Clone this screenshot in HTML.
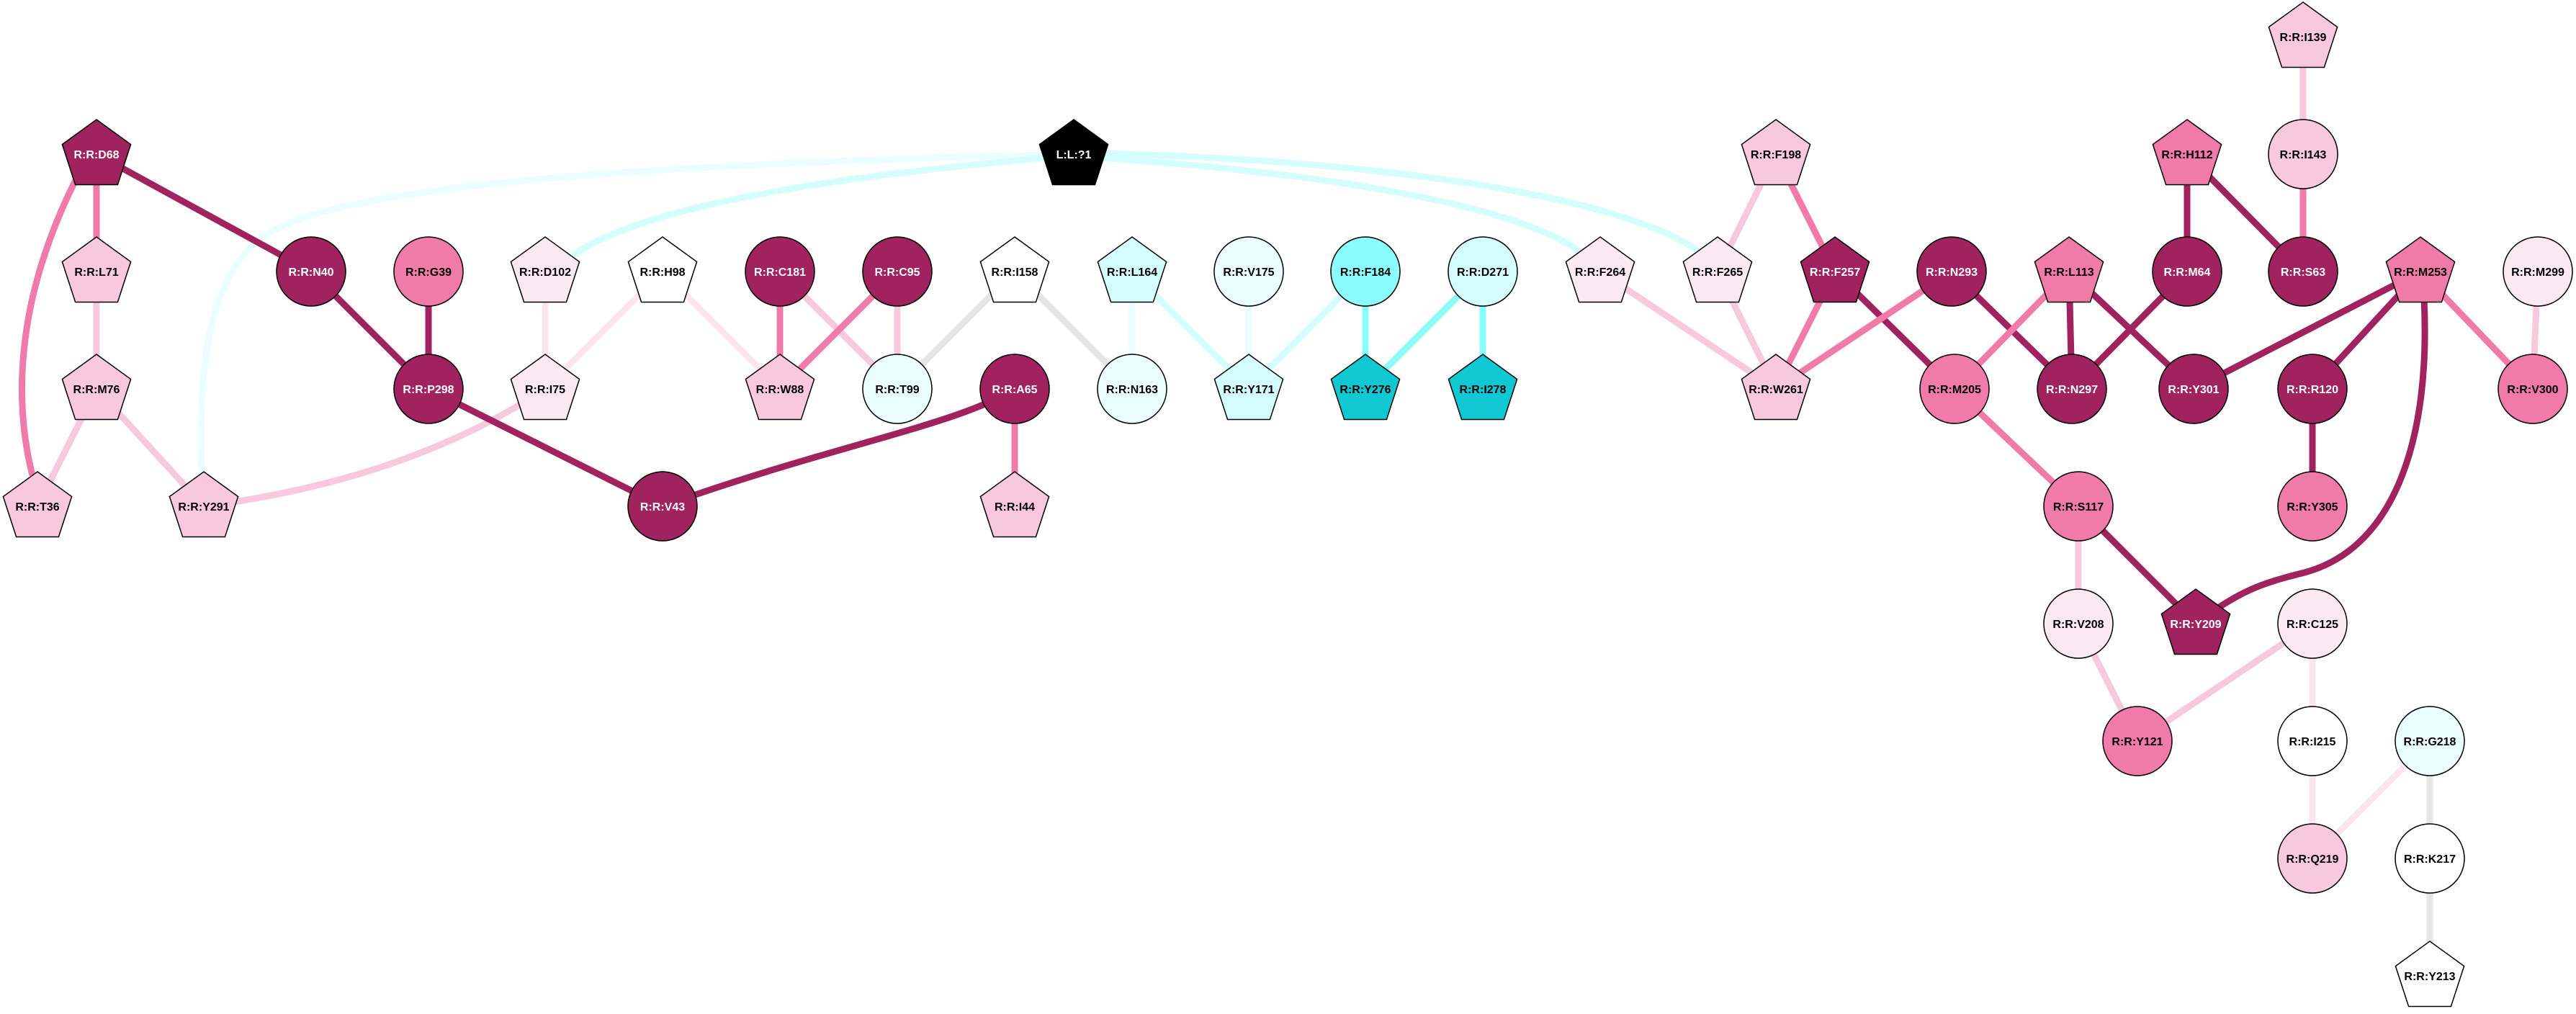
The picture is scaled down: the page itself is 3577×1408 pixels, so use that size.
<!DOCTYPE html>
<html><head><meta charset="utf-8"><style>
html,body{margin:0;padding:0;background:#fff;}
svg{display:block;}
text{font-family:"Liberation Sans",Arial,sans-serif;font-weight:bold;font-size:16px;text-anchor:middle;}
</style></head><body>
<svg width="3577" height="1408" viewBox="0 0 3577 1408" xmlns="http://www.w3.org/2000/svg">
<g fill="none" stroke-width="9" stroke-linecap="butt">
<path d="M1491 214 C1000 225 500 250 380 320 C290 370 275 500 280 660" stroke="#EAFEFE"/>
<path d="M1491 216 C1200 240 900 280 795 355" stroke="#D4FEFE"/>
<path d="M1491 217 C1800 235 2100 280 2195 350" stroke="#D4FEFE"/>
<path d="M1491 212 C1900 220 2250 270 2360 350" stroke="#D4FEFE"/>
<path d="M105 250 C20 420 20 560 45 660" stroke="#F07AA8"/>
<path d="M920 703 C1150 620 1330 590 1409 540" stroke="#A0225E"/>
<path d="M3366 415 C3375 600 3330 760 3200 795 C3140 810 3110 820 3049 866" stroke="#A0225E"/>
<path d="M757 540 C620 630 460 680 283 703" stroke="#F8C8DC"/>
<line x1="134" y1="214" x2="432" y2="377" stroke="#A0225E"/>
<line x1="134" y1="214" x2="134" y2="377" stroke="#F07AA8"/>
<line x1="134" y1="377" x2="134" y2="540" stroke="#F8C8DC"/>
<line x1="134" y1="540" x2="52" y2="703" stroke="#F8C8DC"/>
<line x1="134" y1="540" x2="283" y2="703" stroke="#F8C8DC"/>
<line x1="432" y1="377" x2="595" y2="540" stroke="#A0225E"/>
<line x1="595" y1="377" x2="595" y2="540" stroke="#A0225E"/>
<line x1="595" y1="540" x2="920" y2="703" stroke="#A0225E"/>
<line x1="1409" y1="540" x2="1409" y2="703" stroke="#F07AA8"/>
<line x1="757" y1="377" x2="757" y2="540" stroke="#FBE5EE"/>
<line x1="920" y1="377" x2="757" y2="540" stroke="#FBE5EE"/>
<line x1="920" y1="377" x2="1083" y2="540" stroke="#FBE5EE"/>
<line x1="1083" y1="377" x2="1083" y2="540" stroke="#F07AA8"/>
<line x1="1083" y1="377" x2="1246" y2="540" stroke="#F8C8DC"/>
<line x1="1246" y1="377" x2="1083" y2="540" stroke="#F07AA8"/>
<line x1="1246" y1="377" x2="1246" y2="540" stroke="#F8C8DC"/>
<line x1="1409" y1="377" x2="1246" y2="540" stroke="#E5E5E5"/>
<line x1="1409" y1="377" x2="1572" y2="540" stroke="#E5E5E5"/>
<line x1="1572" y1="377" x2="1572" y2="540" stroke="#EAFEFE"/>
<line x1="1572" y1="377" x2="1734" y2="540" stroke="#D4FEFE"/>
<line x1="1734" y1="377" x2="1734" y2="540" stroke="#EAFEFE"/>
<line x1="1896" y1="377" x2="1734" y2="540" stroke="#D4FEFE"/>
<line x1="1896" y1="377" x2="1896" y2="540" stroke="#8AFCFC"/>
<line x1="2059" y1="377" x2="1896" y2="540" stroke="#8AFCFC"/>
<line x1="2059" y1="377" x2="2059" y2="540" stroke="#8AFCFC"/>
<line x1="2222" y1="377" x2="2466" y2="540" stroke="#F8C8DC"/>
<line x1="2466" y1="214" x2="2385" y2="377" stroke="#F8C8DC"/>
<line x1="2385" y1="377" x2="2466" y2="540" stroke="#F8C8DC"/>
<line x1="2466" y1="214" x2="2548" y2="377" stroke="#F07AA8"/>
<line x1="2548" y1="377" x2="2466" y2="540" stroke="#F07AA8"/>
<line x1="2548" y1="377" x2="2714" y2="540" stroke="#A0225E"/>
<line x1="2710" y1="377" x2="2466" y2="540" stroke="#F07AA8"/>
<line x1="2710" y1="377" x2="2877" y2="540" stroke="#A0225E"/>
<line x1="2873" y1="377" x2="2714" y2="540" stroke="#F07AA8"/>
<line x1="2873" y1="377" x2="2877" y2="540" stroke="#A0225E"/>
<line x1="2873" y1="377" x2="3046" y2="540" stroke="#A0225E"/>
<line x1="3037" y1="377" x2="2877" y2="540" stroke="#A0225E"/>
<line x1="3037" y1="214" x2="3037" y2="377" stroke="#A0225E"/>
<line x1="3037" y1="214" x2="3198" y2="377" stroke="#A0225E"/>
<line x1="3198" y1="51" x2="3198" y2="214" stroke="#F8C8DC"/>
<line x1="3198" y1="214" x2="3198" y2="377" stroke="#F07AA8"/>
<line x1="3361" y1="377" x2="3046" y2="540" stroke="#A0225E"/>
<line x1="3361" y1="377" x2="3211" y2="540" stroke="#A0225E"/>
<line x1="3361" y1="377" x2="3517" y2="540" stroke="#F07AA8"/>
<line x1="3524" y1="377" x2="3517" y2="540" stroke="#F8C8DC"/>
<line x1="3211" y1="540" x2="3211" y2="703" stroke="#A0225E"/>
<line x1="2714" y1="540" x2="2886" y2="703" stroke="#F07AA8"/>
<line x1="2886" y1="703" x2="3049" y2="866" stroke="#A0225E"/>
<line x1="2886" y1="703" x2="2886" y2="866" stroke="#F8C8DC"/>
<line x1="2886" y1="866" x2="2968" y2="1029" stroke="#F8C8DC"/>
<line x1="3211" y1="866" x2="2968" y2="1029" stroke="#F8C8DC"/>
<line x1="3211" y1="866" x2="3211" y2="1029" stroke="#FBE5EE"/>
<line x1="3211" y1="1029" x2="3211" y2="1192" stroke="#FBE5EE"/>
<line x1="3374" y1="1029" x2="3211" y2="1192" stroke="#FBE5EE"/>
<line x1="3374" y1="1029" x2="3374" y2="1192" stroke="#E5E5E5"/>
<line x1="3374" y1="1192" x2="3374" y2="1355" stroke="#E5E5E5"/>
</g>
<defs>
<polygon id="pg" points="0,-48 47.6,-13.5 29.4,42.5 -29.4,42.5 -47.6,-13.5"/>
</defs>
<g stroke="#000" stroke-width="1.5">
<use href="#pg" x="134" y="214" fill="#A0225E"/>
<use href="#pg" x="134" y="377" fill="#F8C8DC"/>
<use href="#pg" x="134" y="540" fill="#F8C8DC"/>
<use href="#pg" x="52" y="703" fill="#F8C8DC"/>
<use href="#pg" x="283" y="703" fill="#F8C8DC"/>
<use href="#pg" x="757" y="377" fill="#FBE9F1"/>
<use href="#pg" x="757" y="540" fill="#FBE9F1"/>
<use href="#pg" x="920" y="377" fill="#FFFFFF"/>
<use href="#pg" x="1083" y="540" fill="#F8C8DC"/>
<use href="#pg" x="1409" y="377" fill="#FFFFFF"/>
<use href="#pg" x="1409" y="703" fill="#F8C8DC"/>
<use href="#pg" x="1572" y="377" fill="#D4FEFE"/>
<use href="#pg" x="1734" y="540" fill="#D4FEFE"/>
<use href="#pg" x="1896" y="540" fill="#10C8D2"/>
<use href="#pg" x="2059" y="540" fill="#10C8D2"/>
<use href="#pg" x="2222" y="377" fill="#FBE9F1"/>
<use href="#pg" x="2385" y="377" fill="#FBE9F1"/>
<use href="#pg" x="1491" y="214" fill="#000000"/>
<use href="#pg" x="2466" y="214" fill="#F8C8DC"/>
<use href="#pg" x="2466" y="540" fill="#F8C8DC"/>
<use href="#pg" x="2548" y="377" fill="#A0225E"/>
<use href="#pg" x="2873" y="377" fill="#F07AA8"/>
<use href="#pg" x="3037" y="214" fill="#F07AA8"/>
<use href="#pg" x="3198" y="51" fill="#F8C8DC"/>
<use href="#pg" x="3361" y="377" fill="#F07AA8"/>
<use href="#pg" x="3049" y="866" fill="#A0225E"/>
<use href="#pg" x="3374" y="1355" fill="#FFFFFF"/>
<circle cx="432" cy="377" r="48" fill="#A0225E"/>
<circle cx="595" cy="377" r="48" fill="#F07AA8"/>
<circle cx="595" cy="540" r="48" fill="#A0225E"/>
<circle cx="920" cy="703" r="48" fill="#A0225E"/>
<circle cx="1083" cy="377" r="48" fill="#A0225E"/>
<circle cx="1246" cy="377" r="48" fill="#A0225E"/>
<circle cx="1246" cy="540" r="48" fill="#EAFEFE"/>
<circle cx="1409" cy="540" r="48" fill="#A0225E"/>
<circle cx="1572" cy="540" r="48" fill="#EAFEFE"/>
<circle cx="1734" cy="377" r="48" fill="#EAFEFE"/>
<circle cx="1896" cy="377" r="48" fill="#8AFCFC"/>
<circle cx="2059" cy="377" r="48" fill="#D4FEFE"/>
<circle cx="2710" cy="377" r="48" fill="#A0225E"/>
<circle cx="2714" cy="540" r="48" fill="#F07AA8"/>
<circle cx="2877" cy="540" r="48" fill="#A0225E"/>
<circle cx="3037" cy="377" r="48" fill="#A0225E"/>
<circle cx="3046" cy="540" r="48" fill="#A0225E"/>
<circle cx="3198" cy="377" r="48" fill="#A0225E"/>
<circle cx="3198" cy="214" r="48" fill="#F8C8DC"/>
<circle cx="3211" cy="540" r="48" fill="#A0225E"/>
<circle cx="3524" cy="377" r="48" fill="#FBE9F1"/>
<circle cx="3517" cy="540" r="48" fill="#F07AA8"/>
<circle cx="3211" cy="703" r="48" fill="#F07AA8"/>
<circle cx="2886" cy="703" r="48" fill="#F07AA8"/>
<circle cx="2886" cy="866" r="48" fill="#FBE9F1"/>
<circle cx="3211" cy="866" r="48" fill="#FBE9F1"/>
<circle cx="2968" cy="1029" r="48" fill="#F07AA8"/>
<circle cx="3211" cy="1029" r="48" fill="#FFFFFF"/>
<circle cx="3374" cy="1029" r="48" fill="#EAFEFE"/>
<circle cx="3211" cy="1192" r="48" fill="#F8C8DC"/>
<circle cx="3374" cy="1192" r="48" fill="#FFFFFF"/>
</g>
<g fill="#000">
<text x="134" y="220" fill="#fff">R:R:D68</text>
<text x="134" y="383">R:R:L71</text>
<text x="134" y="546">R:R:M76</text>
<text x="52" y="709">R:R:T36</text>
<text x="283" y="709">R:R:Y291</text>
<text x="432" y="383" fill="#fff">R:R:N40</text>
<text x="595" y="383">R:R:G39</text>
<text x="595" y="546" fill="#fff">R:R:P298</text>
<text x="757" y="383">R:R:D102</text>
<text x="757" y="546">R:R:I75</text>
<text x="920" y="383">R:R:H98</text>
<text x="920" y="709" fill="#fff">R:R:V43</text>
<text x="1083" y="383" fill="#fff">R:R:C181</text>
<text x="1083" y="546">R:R:W88</text>
<text x="1246" y="383" fill="#fff">R:R:C95</text>
<text x="1246" y="546">R:R:T99</text>
<text x="1409" y="383">R:R:I158</text>
<text x="1409" y="546" fill="#fff">R:R:A65</text>
<text x="1409" y="709">R:R:I44</text>
<text x="1572" y="383">R:R:L164</text>
<text x="1572" y="546">R:R:N163</text>
<text x="1734" y="383">R:R:V175</text>
<text x="1734" y="546">R:R:Y171</text>
<text x="1896" y="383">R:R:F184</text>
<text x="1896" y="546">R:R:Y276</text>
<text x="2059" y="383">R:R:D271</text>
<text x="2059" y="546">R:R:I278</text>
<text x="2222" y="383">R:R:F264</text>
<text x="2385" y="383">R:R:F265</text>
<text x="1491" y="220" fill="#fff">L:L:?1</text>
<text x="2466" y="220">R:R:F198</text>
<text x="2466" y="546">R:R:W261</text>
<text x="2548" y="383" fill="#fff">R:R:F257</text>
<text x="2710" y="383" fill="#fff">R:R:N293</text>
<text x="2714" y="546">R:R:M205</text>
<text x="2873" y="383">R:R:L113</text>
<text x="2877" y="546" fill="#fff">R:R:N297</text>
<text x="3037" y="383" fill="#fff">R:R:M64</text>
<text x="3046" y="546" fill="#fff">R:R:Y301</text>
<text x="3037" y="220">R:R:H112</text>
<text x="3198" y="383" fill="#fff">R:R:S63</text>
<text x="3198" y="57">R:R:I139</text>
<text x="3198" y="220">R:R:I143</text>
<text x="3361" y="383">R:R:M253</text>
<text x="3211" y="546" fill="#fff">R:R:R120</text>
<text x="3524" y="383">R:R:M299</text>
<text x="3517" y="546">R:R:V300</text>
<text x="3211" y="709">R:R:Y305</text>
<text x="2886" y="709">R:R:S117</text>
<text x="2886" y="872">R:R:V208</text>
<text x="3049" y="872" fill="#fff">R:R:Y209</text>
<text x="3211" y="872">R:R:C125</text>
<text x="2968" y="1035">R:R:Y121</text>
<text x="3211" y="1035">R:R:I215</text>
<text x="3374" y="1035">R:R:G218</text>
<text x="3211" y="1198">R:R:Q219</text>
<text x="3374" y="1198">R:R:K217</text>
<text x="3374" y="1361">R:R:Y213</text>
</g>
</svg>
</body></html>
